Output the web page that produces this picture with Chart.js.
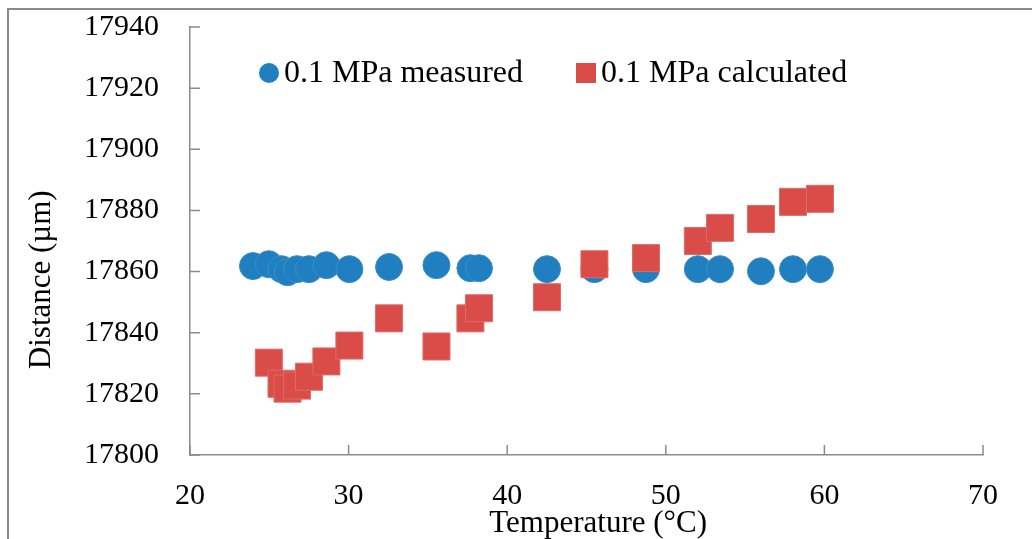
<!DOCTYPE html>
<html>
<head>
<meta charset="utf-8">
<script src="https://cdn.jsdelivr.net/npm/chart.js@4/dist/chart.umd.min.js"></script>
<style>
    html, body { margin: 0; padding: 0; background: #fff; overflow: hidden; }
    #wrap { position: relative; width: 1032px; height: 539px; }
</style>
</head>
<body>
<div id="wrap"><canvas id="chart" width="1032" height="539"></canvas></div>
<script>
'use strict';

// values
const seriesNames = ['0.1 MPa measured', '0.1 MPa calculated'];

const measuredTemp = [23.97, 24.97, 25.77, 26.15, 26.75, 27.50, 28.60, 30.05, 32.55, 35.54,
    37.68, 38.22, 42.51, 45.50, 48.75, 52.02, 53.42, 56.00, 58.02, 59.72];
const measuredDist = [17861.8, 17862.4, 17860.8, 17859.8, 17860.8, 17860.8, 17862.1, 17860.8, 17861.5, 17862.1,
    17861.1, 17861.1, 17860.8, 17860.8, 17860.8, 17860.8, 17860.8, 17860.1, 17860.8, 17860.8];

const calcTemp = [24.97, 25.77, 26.15, 26.75, 27.50, 28.60, 30.05, 32.55, 35.54,
    37.68, 38.22, 42.51, 45.50, 48.75, 52.02, 53.42, 56.00, 58.02, 59.72];
const calcDist = [17830.2, 17823.3, 17821.7, 17822.7, 17825.6, 17830.6, 17835.8, 17844.7, 17835.5,
    17844.7, 17848.0, 17851.6, 17862.4, 17864.4, 17870.0, 17874.3, 17877.2, 17882.8, 17883.8];

const xTicks = [20, 30, 40, 50, 60, 70];
const yTicks = [17800, 17820, 17840, 17860, 17880, 17900, 17920, 17940];

const BLUE = '#1f7fc0';
const RED = '#da4c48';
const AXIS = '#8c8c8c';
const FONT = '"Liberation Serif", "Times New Roman", serif';

const toPoints = (xs, ys) => xs.map((x, i) => ({ x: x, y: ys[i] }));

// outer frame of the figure (only left and top edges are inside the crop)
const framePlugin = {
    id: 'frame',
    beforeDraw(chart) {
        const ctx = chart.ctx;
        ctx.save();
        ctx.strokeStyle = '#8a8a8a';
        ctx.lineWidth = 2;
        ctx.strokeRect(8, 9, 1200, 800);
        ctx.restore();
    }
};

// tick marks pointing into the plot
const innerTicks = {
    id: 'innerTicks',
    afterDraw(chart) {
        const { ctx, chartArea, scales } = chart;
        const len = 10;
        ctx.save();
        ctx.strokeStyle = AXIS;
        ctx.lineWidth = 1.5;
        ctx.beginPath();
        scales.x.ticks.forEach(t => {
            const px = scales.x.getPixelForValue(t.value);
            ctx.moveTo(px, chartArea.bottom);
            ctx.lineTo(px, chartArea.bottom - len);
        });
        scales.y.ticks.forEach(t => {
            const py = scales.y.getPixelForValue(t.value);
            ctx.moveTo(chartArea.left, py);
            ctx.lineTo(chartArea.left + len, py);
        });
        ctx.stroke();
        ctx.restore();
    }
};

// legend sitting inside the plot area, near the top
const insideLegend = {
    id: 'insideLegend',
    afterDraw(chart) {
        const { ctx, chartArea } = chart;
        const y = chartArea.top + 46;
        const items = [
            { x: chartArea.left + 79, ds: chart.data.datasets[0] },
            { x: chartArea.left + 396, ds: chart.data.datasets[1] }
        ];
        ctx.save();
        ctx.font = '32px ' + FONT;
        ctx.textBaseline = 'middle';
        ctx.textAlign = 'left';
        items.forEach(it => {
            ctx.fillStyle = it.ds.backgroundColor;
            if (it.ds.pointStyle === 'rect') {
                ctx.fillRect(it.x - 10, y - 10, 20, 20);
            } else {
                ctx.beginPath();
                ctx.arc(it.x, y, 10, 0, Math.PI * 2);
                ctx.fill();
            }
            ctx.fillStyle = '#000';
            ctx.fillText(it.ds.label, it.x + 15, y + 1);
        });
        ctx.restore();
    }
};

new Chart(document.getElementById('chart'), {
    type: 'scatter',
    data: {
        datasets: [{
            label: seriesNames[0],
            data: toPoints(measuredTemp, measuredDist),
            pointStyle: 'circle',
            pointRadius: 13.5,
            borderWidth: 1,
            backgroundColor: BLUE,
            borderColor: '#3a8ec8',
            order: 1
        }, {
            label: seriesNames[1],
            data: toPoints(calcTemp, calcDist),
            pointStyle: 'rect',
            pointRadius: 19.1,
            borderWidth: 1,
            backgroundColor: RED,
            borderColor: '#e06a66',
            order: 0
        }]
    },
    options: {
        responsive: false,
        animation: false,
        events: [],
        layout: { padding: { top: 27, right: 49, bottom: 0, left: 0 } },
        plugins: {
            legend: { display: false },
            tooltip: { enabled: false }
        },
        scales: {
            x: {
                type: 'linear',
                min: 20,
                max: 70,
                afterBuildTicks: s => { s.ticks = xTicks.map(v => ({ value: v })); },
                afterFit: s => { s.height = 84; s.paddingLeft = 0; s.paddingRight = 0; },
                grid: { display: false, drawTicks: false },
                border: { display: true, color: AXIS, width: 1.5 },
                ticks: { color: '#000', padding: 23, maxRotation: 0, font: { family: FONT, size: 30 } },
                title: {
                    display: true,
                    text: '   Temperature (°C)',
                    color: '#000',
                    padding: { top: 0, bottom: 0 },
                    font: { family: FONT, size: 31, lineHeight: 1 }
                }
            },
            y: {
                type: 'linear',
                min: 17800,
                max: 17940,
                afterBuildTicks: s => { s.ticks = yTicks.map(v => ({ value: v })); },
                afterFit: s => { s.width = 190; s.paddingTop = 0; s.paddingBottom = 0; },
                grid: { display: false, drawTicks: false },
                border: { display: true, color: AXIS, width: 1.5 },
                ticks: {
                    color: '#000',
                    padding: 31,
                    font: { family: FONT, size: 30 },
                    callback: v => String(v)
                },
                title: {
                    display: true,
                    text: 'Distance (µm)          ',
                    color: '#000',
                    padding: { top: 23, bottom: 0 },
                    font: { family: FONT, size: 31 }
                }
            }
        }
    },
    plugins: [framePlugin, innerTicks, insideLegend]
});
</script>
</body>
</html>
